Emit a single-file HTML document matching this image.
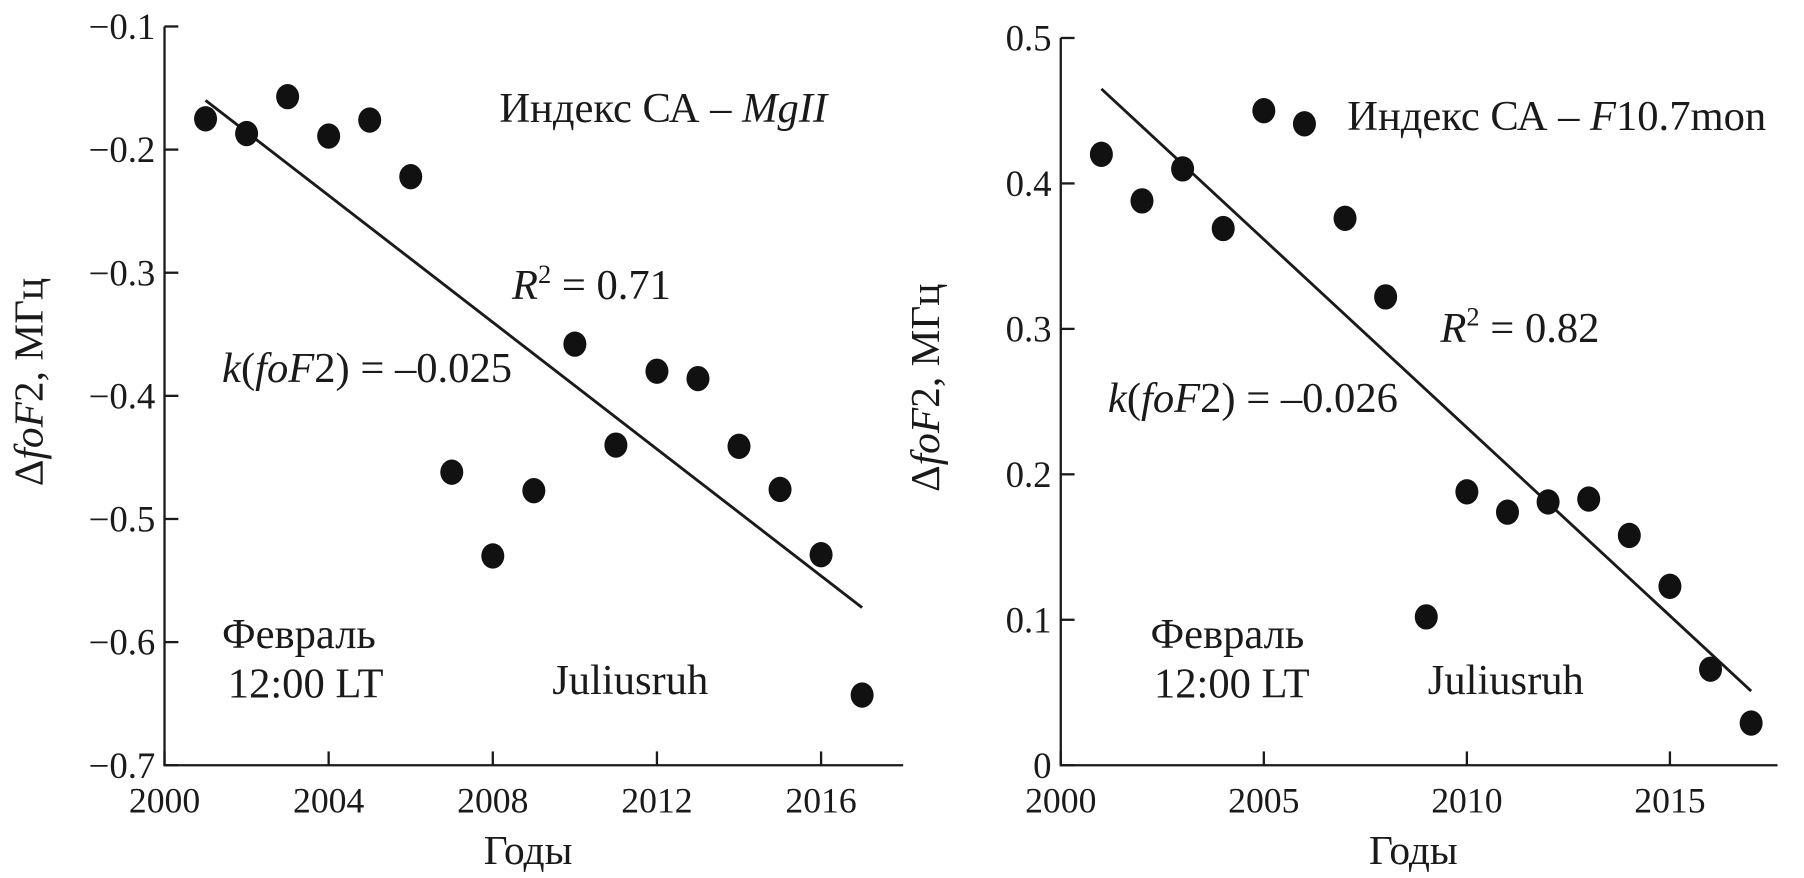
<!DOCTYPE html>
<html><head><meta charset="utf-8"><style>
body{margin:0;background:#fff}
svg{display:block;font-family:"Liberation Serif",serif}
text{fill:#1a1a1a}
</style></head><body>
<svg id="fig" width="1804" height="878" viewBox="0 0 1568 763" preserveAspectRatio="none"></svg>
<script>
const years=[2001,2002,2003,2004,2005,2006,2007,2008,2009,2010,2011,2012,2013,2014,2015,2016,2017];
const leftValues=[-0.175,-0.187,-0.157,-0.189,-0.176,-0.222,-0.462,-0.530,-0.477,-0.358,-0.440,-0.380,-0.386,-0.441,-0.476,-0.529,-0.643];
const leftTrend=[-0.160,-0.572];
const leftXTicks=[2000,2004,2008,2012,2016];
const leftYTicks=[-0.1,-0.2,-0.3,-0.4,-0.5,-0.6,-0.7];
const leftYLabels=["\u22120.1","\u22120.2","\u22120.3","\u22120.4","\u22120.5","\u22120.6","\u22120.7"];
const rightValues=[0.420,0.388,0.410,0.369,0.450,0.441,0.376,0.322,0.102,0.188,0.174,0.181,0.183,0.158,0.123,0.066,0.029];
const rightTrend=[0.465,0.051];
const rightXTicks=[2000,2005,2010,2015];
const rightYTicks=[0.5,0.4,0.3,0.2,0.1,0];
const rightYLabels=["0.5","0.4","0.3","0.2","0.1","0"];
const NS="http://www.w3.org/2000/svg";
const svg=document.getElementById('fig');
function mk(tag,attrs,parent,txt){const e=document.createElementNS(NS,tag);for(const k in attrs)e.setAttribute(k,attrs[k]);if(txt!==undefined)e.textContent=txt;(parent||svg).appendChild(e);return e;}
function panel(cfg){
  const g=mk('g',{});
  
  
  const X=v=>cfg.x0+(v-cfg.xmin)/(cfg.xmax-cfg.xmin)*(cfg.x1-cfg.x0);
  const Y=v=>cfg.yb+(v-cfg.ymin)/(cfg.ymax-cfg.ymin)*(cfg.yt-cfg.yb);
  const ax=mk('path',{d:`M${cfg.x0},${cfg.yt}V${cfg.yb}H${cfg.x1}`,fill:'none',stroke:'#1a1a1a','stroke-width':2},g);
  
  
  cfg.yTicks.forEach((v,i)=>{
    mk('line',{x1:cfg.x0,x2:cfg.x0+12,y1:Y(v),y2:Y(v),stroke:'#1a1a1a','stroke-width':2},g);
    const t=mk('text',{x:cfg.x0-8,y:Y(v)+11,'text-anchor':'end','font-size':32},g,cfg.yLabels[i]);
    
    
  });
  cfg.xTicks.forEach(v=>{
    mk('line',{x1:X(v),x2:X(v),y1:cfg.yb,y2:cfg.yb-12,stroke:'#1a1a1a','stroke-width':2},g);
    const t=mk('text',{x:X(v),y:cfg.yb+41,'text-anchor':'middle','font-size':31},g,String(v));
    
    
  });
  const tl=mk('line',{x1:X(years[0]),y1:Y(cfg.trend[0]),x2:X(years[years.length-1]),y2:Y(cfg.trend[1]),stroke:'#1a1a1a','stroke-width':2.5},g);
  
  
  years.forEach((yr,i)=>{
    const c=mk('ellipse',{cx:X(yr),cy:Y(cfg.values[i]),rx:10,ry:11,fill:'#111'},g);
    
    
  });
  const xt=mk('text',{x:(cfg.x0+cfg.x1)/2-5,y:cfg.yb+86,'text-anchor':'middle','font-size':36},g,'Годы');
  
  
  const yt=mk('text',{transform:`translate(${cfg.x0-106},${(cfg.yt+cfg.yb)/2-12}) rotate(-90)`,'text-anchor':'middle','font-size':36},g);
  yt.innerHTML='Δ<tspan font-style="italic">foF</tspan>2, МГц';
  
  
  cfg.labels.forEach(l=>{
    const t=mk('text',{x:l[0],y:l[1],'font-size':37},g);
    t.innerHTML=l[2];
    
    
  });
}
panel({name:'left-panel',x0:143,x1:785,yt:23,yb:665,xmin:2000,xmax:2018,ymin:-0.7,ymax:-0.1,
  values:leftValues,trend:leftTrend,xTicks:leftXTicks,yTicks:leftYTicks,yLabels:leftYLabels,
  labels:[[434,106,'Индекс СА – <tspan font-style="italic">MgII</tspan>','index-label'],
          [445,260,'<tspan font-style="italic">R</tspan><tspan font-size="23" dy="-14">2</tspan><tspan dy="14"> = 0.71</tspan>','r2-label'],
          [193,332,'<tspan font-style="italic">k</tspan>(<tspan font-style="italic">foF</tspan>2) = –0.025','slope-label'],
          [193,563,'Февраль','month-label'],[198,606,'12:00 LT','time-label'],[480,603,'Juliusruh','station-label']]});
panel({name:'right-panel',x0:922,x1:1545,yt:33,yb:665,xmin:2000,xmax:2017.65,ymin:0,ymax:0.5,
  values:rightValues,trend:rightTrend,xTicks:rightXTicks,yTicks:rightYTicks,yLabels:rightYLabels,
  labels:[[1171,113,'Индекс СА – <tspan font-style="italic">F</tspan>10.7mon','index-label'],
          [1252,297,'<tspan font-style="italic">R</tspan><tspan font-size="23" dy="-14">2</tspan><tspan dy="14"> = 0.82</tspan>','r2-label'],
          [963,358,'<tspan font-style="italic">k</tspan>(<tspan font-style="italic">foF</tspan>2) = –0.026','slope-label'],
          [1000,563,'Февраль','month-label'],[1003,606,'12:00 LT','time-label'],[1241,603,'Juliusruh','station-label']]});
</script>
</body></html>
